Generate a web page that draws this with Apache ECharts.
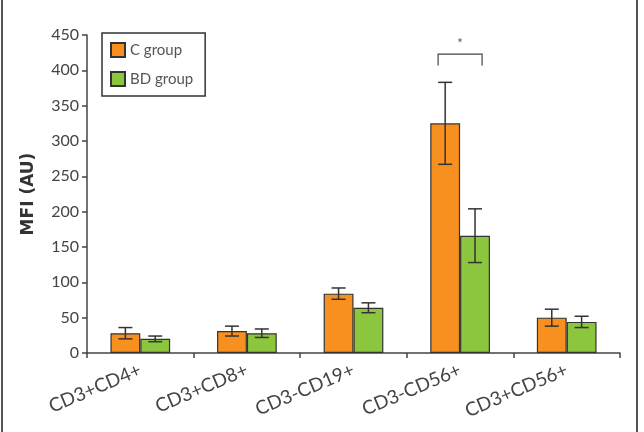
<!DOCTYPE html>
<html>
<head>
<meta charset="utf-8">
<script src="https://cdn.jsdelivr.net/npm/echarts@6/dist/echarts.min.js"></script>
<style>
  html, body { margin: 0; padding: 0; background: #fff; }
  #chart { width: 644px; height: 432px; }
</style>
</head>
<body>
<div id="chart"></div>
<script>
var categories = ["CD3+CD4+", "CD3+CD8+", "CD3-CD19+", "CD3-CD56+", "CD3+CD56+"];
var cGroup = [28, 31, 84, 325, 50];
var cGroupErr = [8, 7, 8, 58, 12];
var bdGroup = [20, 28, 64, 166, 44];
var bdGroupErr = [4, 6, 7, 38, 8];
var yTicks = [0, 50, 100, 150, 200, 250, 300, 350, 400, 450];
// significance bracket over CD3-CD56+
var sigMarks = [[3, 423, 407, "*"]];

var chartDom = document.getElementById("chart");
var chart = echarts.init(chartDom);

var barFrac = 0.28;

function errorBars(values, errs, side) {
  return {
    type: "custom",
    z: 5,
    silent: true,
    renderItem: function (params, api) {
      var idx = api.value(0);
      var band = api.size([1, 0])[0];
      var off = side * band * barFrac / 2;
      var top = api.coord([idx, api.value(1) + api.value(2)]);
      var bot = api.coord([idx, api.value(1) - api.value(2)]);
      var x = top[0] + off;
      var cap = 7;
      var style = { stroke: "#333", lineWidth: 1.5 };
      return {
        type: "group",
        children: [
          { type: "line", shape: { x1: x, y1: top[1], x2: x, y2: bot[1] }, style: style },
          { type: "line", shape: { x1: x - cap, y1: top[1], x2: x + cap, y2: top[1] }, style: style },
          { type: "line", shape: { x1: x - cap, y1: bot[1], x2: x + cap, y2: bot[1] }, style: style },
        ],
      };
    },
    data: values.map(function (v, i) {
      return [i, v, errs[i]];
    }),
  };
}

chart.setOption({
  animation: false,
  textStyle: { fontFamily: "Lato" },
  graphic: [
    { type: "line", shape: { x1: 2, y1: 0, x2: 2, y2: 432 }, style: { stroke: "#555", lineWidth: 2 } },
    { type: "line", shape: { x1: 637, y1: 0, x2: 637, y2: 432 }, style: { stroke: "#555", lineWidth: 2 } },
  ],
  legend: {
    orient: "vertical",
    left: 102,
    top: 33,
    padding: [9, 12, 9, 8],
    itemGap: 13,
    itemWidth: 14,
    itemHeight: 14,
    icon: "rect",
    borderColor: "#333",
    borderWidth: 1.5,
    borderRadius: 0,
    textStyle: { fontSize: 15, color: "#555" },
    data: ["C group", "BD group"],
  },
  grid: { left: 87, right: 24, top: 35, bottom: 79 },
  xAxis: {
    type: "category",
    data: categories,
    axisLine: { lineStyle: { color: "#444", width: 1.5 } },
    axisTick: { show: true, length: 5, lineStyle: { color: "#444", width: 1.5 } },
    axisLabel: {
      rotate: 23,
      fontSize: 19,
      color: "#444",
      margin: 16,
    },
  },
  yAxis: {
    type: "value",
    min: 0,
    max: 450,
    interval: 50,
    name: "MFI (AU)",
    nameLocation: "middle",
    nameGap: 50,
    nameTextStyle: { fontSize: 17, fontWeight: "bold", color: "#333", fontFamily: "DejaVu Sans" },
    axisLine: { show: true, lineStyle: { color: "#444", width: 1.5 } },
    axisTick: { show: true, length: 5, lineStyle: { color: "#444", width: 1.5 } },
    axisLabel: {
      fontSize: 16,
      color: "#444",
      margin: 8,
      formatter: function (v) {
        return yTicks.indexOf(v) >= 0 ? String(v) : "";
      },
    },
    splitLine: { show: false },
  },
  series: [
    {
      name: "C group",
      type: "bar",
      barWidth: barFrac * 100 + "%",
      barGap: "0%",
      data: cGroup,
      itemStyle: { color: "#F8901F", borderColor: "#333", borderWidth: 1.2 },
    },
    {
      name: "BD group",
      type: "bar",
      barWidth: barFrac * 100 + "%",
      barGap: "0%",
      data: bdGroup,
      itemStyle: { color: "#8CC63F", borderColor: "#333", borderWidth: 1.2 },
    },
    errorBars(cGroup, cGroupErr, -1),
    errorBars(bdGroup, bdGroupErr, 1),
    {
      type: "custom",
      silent: true,
      z: 6,
      renderItem: function (params, api) {
        var idx = api.value(0);
        var top = api.coord([idx, api.value(1)]);
        var legY = api.coord([idx, api.value(2)])[1];
        var half = 22;
        var style = { stroke: "#444", lineWidth: 1.2, fill: null };
        return {
          type: "group",
          children: [
            {
              type: "polyline",
              shape: {
                points: [
                  [top[0] - half, legY],
                  [top[0] - half, top[1]],
                  [top[0] + half, top[1]],
                  [top[0] + half, legY],
                ],
              },
              style: style,
            },
            {
              type: "text",
              x: top[0],
              y: top[1] - 4,
              style: {
                text: api.value(3),
                fill: "#555",
                font: "13px Lato",
                align: "center",
                verticalAlign: "bottom",
              },
            },
          ],
        };
      },
      data: sigMarks,
    },
  ],
});

window.addEventListener("resize", function () {
  chart.resize();
});
</script>
</body>
</html>
